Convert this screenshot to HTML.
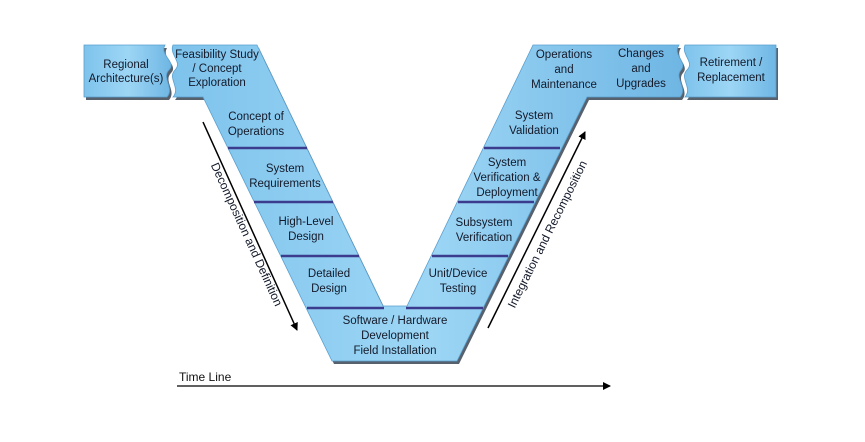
<!DOCTYPE html>
<html><head><meta charset="utf-8"><style>
html,body{margin:0;padding:0;background:#fff;width:865px;height:442px;overflow:hidden}
svg text{font-family:"Liberation Sans",Arial,sans-serif;font-size:11.5px;fill:#141a2a;text-anchor:middle}
</style></head><body>
<svg width="865" height="442" viewBox="0 0 865 442" xmlns="http://www.w3.org/2000/svg">
<defs>
<linearGradient id="g" x1="0" y1="0" x2="1" y2="0">
<stop offset="0" stop-color="#7ec3ec"/><stop offset="0.5" stop-color="#9dd6f5"/><stop offset="1" stop-color="#6fb6e4"/>
</linearGradient>
<marker id="ah" markerWidth="8" markerHeight="8" refX="7" refY="4" orient="auto" markerUnits="userSpaceOnUse"><path d="M0,0 L8,4 L0,8 Z" fill="#000"/></marker>
</defs>
<g fill="#2c3a48" opacity="0.8" transform="translate(2,3)">
<path d="M84,45 L165,45 C159,55 177,62 169,70 C161,78 175,88 167,97 L84,97 Z"/>
<path d="M173,45 L257,45 L383,306 L407,306 L533,45 L679,45 C672,55 688,62 681,70 C674,78 688,88 680,97 L587,97 L457,361 L332,361 L203,97 L173,97 C181,88 167,78 175,70 C183,62 169,55 173,45 Z"/>
<path d="M685,45 L776,45 L776,97 L685,97 C693,88 679,78 687,70 C695,62 681,55 685,45 Z"/>
</g>
<g fill="url(#g)" stroke="#5aa0cf" stroke-width="0.8">
<path d="M84,45 L165,45 C159,55 177,62 169,70 C161,78 175,88 167,97 L84,97 Z"/>
<path d="M173,45 L257,45 L383,306 L407,306 L533,45 L679,45 C672,55 688,62 681,70 C674,78 688,88 680,97 L587,97 L457,361 L332,361 L203,97 L173,97 C181,88 167,78 175,70 C183,62 169,55 173,45 Z"/>
<path d="M685,45 L776,45 L776,97 L685,97 C693,88 679,78 687,70 C695,62 681,55 685,45 Z"/>
</g>
<g stroke="#3b3c8e" stroke-width="2.5">
<line x1="228" y1="148" x2="307" y2="148"/>
<line x1="254" y1="202" x2="333" y2="202"/>
<line x1="281" y1="256" x2="359" y2="256"/>
<line x1="307" y1="308" x2="384" y2="308"/>
<line x1="406" y1="308" x2="483" y2="308"/>
<line x1="432" y1="256" x2="508" y2="256"/>
<line x1="458" y1="202" x2="534" y2="202"/>
<line x1="484" y1="148" x2="560" y2="148"/>
</g>
<text x="126" y="68">Regional</text><text x="126" y="82">Architecture(s)</text>
<text x="217" y="58">Feasibility Study</text><text x="217" y="72">/ Concept</text><text x="217" y="86">Exploration</text>
<text x="256" y="120">Concept of</text><text x="256" y="135">Operations</text>
<text x="285" y="172">System</text><text x="285" y="187">Requirements</text>
<text x="306" y="225">High-Level</text><text x="306" y="240">Design</text>
<text x="329" y="277">Detailed</text><text x="329" y="292">Design</text>
<text x="395" y="324">Software / Hardware</text><text x="395" y="339">Development</text><text x="395" y="354">Field Installation</text>
<text x="564" y="58">Operations</text><text x="564" y="73">and</text><text x="564" y="88">Maintenance</text>
<text x="641" y="57">Changes</text><text x="641" y="72">and</text><text x="641" y="87">Upgrades</text>
<text x="731" y="66">Retirement /</text><text x="731" y="81">Replacement</text>
<text x="534" y="119">System</text><text x="534" y="134">Validation</text>
<text x="507" y="166">System</text><text x="507" y="181">Verification &amp;</text><text x="507" y="196">Deployment</text>
<text x="484" y="226">Subsystem</text><text x="484" y="241">Verification</text>
<text x="458" y="277">Unit/Device</text><text x="458" y="292">Testing</text>
<line x1="203" y1="122" x2="297" y2="330" stroke="#000" stroke-width="1.5" marker-end="url(#ah)"/>
<text transform="translate(243,236) rotate(65.5)" style="font-size:12px">Decomposition and Definition</text>
<line x1="488" y1="328" x2="585" y2="132" stroke="#000" stroke-width="1.5" marker-end="url(#ah)"/>
<text transform="translate(551,236) rotate(-63.5)" style="font-size:12px">Integration and Recomposition</text>
<text x="179" y="381" style="text-anchor:start;font-size:12px;fill:#111">Time Line</text>
<line x1="177" y1="386" x2="610" y2="386" stroke="#000" stroke-width="1.2" marker-end="url(#ah)"/>
</svg>
</body></html>
